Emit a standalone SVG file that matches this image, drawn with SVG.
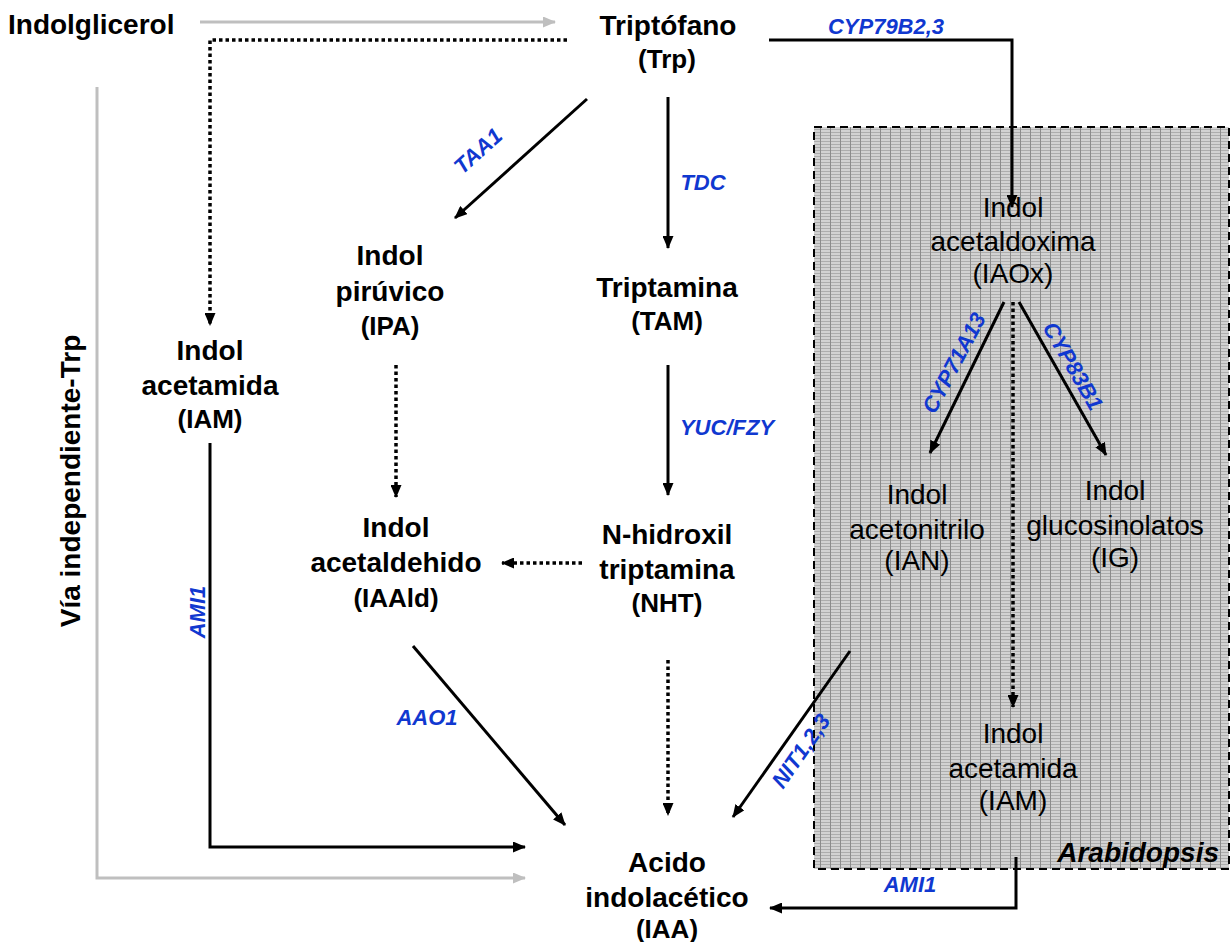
<svg xmlns="http://www.w3.org/2000/svg" width="1232" height="942" viewBox="0 0 1232 942">
<style>
.b{font-family:"Liberation Sans",Arial,sans-serif;font-weight:bold;font-size:28px;fill:#000;text-anchor:middle}
.r{font-family:"Liberation Sans",Arial,sans-serif;font-size:28px;fill:#000;text-anchor:middle}
.e{font-family:"Liberation Sans",Arial,sans-serif;font-weight:bold;font-style:italic;font-size:22px;fill:#1038d0;text-anchor:middle}
.k{fill:none;stroke:#000;stroke-width:3}
.d{fill:none;stroke:#000;stroke-width:3.5;stroke-dasharray:3.5 3}
.g{fill:none;stroke:#bfbfbf;stroke-width:3}
</style>
<defs>
<pattern id="grid" width="10" height="3" patternUnits="userSpaceOnUse">
<rect width="10" height="3" fill="#d2d2d2"/>
<rect y="0" width="10" height="1" fill="#adadad"/>
<rect x="0" width="1" height="3" fill="#8c8c8c"/>
</pattern>
<marker id="ah" viewBox="0 0 13 11" refX="12" refY="5.5" markerWidth="13" markerHeight="11" markerUnits="userSpaceOnUse" orient="auto"><path d="M0,0 L13,5.5 L0,11 Z" fill="#000"/></marker>
<marker id="ag" viewBox="0 0 13 11" refX="12" refY="5.5" markerWidth="13" markerHeight="11" markerUnits="userSpaceOnUse" orient="auto"><path d="M0,0 L13,5.5 L0,11 Z" fill="#bfbfbf"/></marker>
</defs>
<rect width="1232" height="942" fill="#fff"/>
<g id="arabidopsis-box">
<rect x="814" y="127" width="415" height="742" fill="url(#grid)" stroke="#000" stroke-width="2" stroke-dasharray="8 5"/>
<text x="1219" y="862" style="font-family:'Liberation Sans',Arial,sans-serif;font-weight:bold;font-style:italic;font-size:28px;text-anchor:end">Arabidopsis</text>
</g>
<g id="connectors">
<path class="g" d="M200,22 H555" marker-end="url(#ag)"/>
<path class="g" d="M97,87 V878 H525" marker-end="url(#ag)"/>
<path class="d" d="M567,40 H210 V325" marker-end="url(#ah)"/>
<path class="k" d="M769,40 H1012 V207" marker-end="url(#ah)"/>
<path class="k" d="M587,99 L455,218" marker-end="url(#ah)"/>
<path class="k" d="M668,97 V248" marker-end="url(#ah)"/>
<path class="k" d="M668,365 V495" marker-end="url(#ah)"/>
<path class="d" d="M396,365 V497" marker-end="url(#ah)"/>
<path class="d" d="M582,563 H502" marker-end="url(#ah)"/>
<path class="d" d="M668,660 V815" marker-end="url(#ah)"/>
<path class="k" d="M210,443 V847 H525" marker-end="url(#ah)"/>
<path class="k" d="M413,646 L565,825" marker-end="url(#ah)"/>
<path class="k" d="M850,651 L733,817" marker-end="url(#ah)"/>
<path class="k" d="M1004,302 L930,453" marker-end="url(#ah)"/>
<path class="k" d="M1019,302 L1106,455" marker-end="url(#ah)"/>
<path class="d" d="M1013,302 V707" marker-end="url(#ah)"/>
<path class="k" d="M1016,857 V908 H770" marker-end="url(#ah)"/>
<text class="e" x="886" y="34">CYP79B2,3</text>
<text class="e" transform="translate(478,151) rotate(-42)" y="7.5">TAA1</text>
<text class="e" x="703" y="190">TDC</text>
<text class="e" x="727" y="435">YUC/FZY</text>
<text class="e" transform="translate(197,612) rotate(-90)" y="7.5">AMI1</text>
<text class="e" x="427" y="725">AAO1</text>
<text class="e" transform="translate(801,751) rotate(-55)" y="7.5">NIT1,2,3</text>
<text class="e" transform="translate(954,363) rotate(-62)" y="7.5">CYP71A13</text>
<text class="e" transform="translate(1073,366) rotate(60)" y="7.5">CYP83B1</text>
<text class="e" x="910" y="892">AMI1</text>
</g>
<g id="via-independiente">
<text class="b" transform="translate(70,481) rotate(-90)" y="10">Vía independiente-Trp</text>
</g>
<g id="indolglicerol"><text class="b" x="8" y="34" style="text-anchor:start">Indolglicerol</text></g>
<g id="trp"><text class="b" x="668" y="35">Triptófano</text><text class="b" x="667" y="68" style="font-size:26px">(Trp)</text></g>
<g id="ipa"><text class="b" x="390" y="265">Indol</text><text class="b" x="390" y="301">pirúvico</text><text class="b" x="390" y="335" style="font-size:26px">(IPA)</text></g>
<g id="tam"><text class="b" x="667" y="297">Triptamina</text><text class="b" x="667" y="330" style="font-size:26px">(TAM)</text></g>
<g id="iam-left"><text class="b" x="210" y="360">Indol</text><text class="b" x="210" y="395">acetamida</text><text class="b" x="210" y="428" style="font-size:26px">(IAM)</text></g>
<g id="iaald"><text class="b" x="396" y="537">Indol</text><text class="b" x="396" y="572">acetaldehido</text><text class="b" x="396" y="607" style="font-size:26px">(IAAld)</text></g>
<g id="nht"><text class="b" x="667" y="544">N-hidroxil</text><text class="b" x="667" y="579">triptamina</text><text class="b" x="667" y="612" style="font-size:26px">(NHT)</text></g>
<g id="iaa"><text class="b" x="667" y="872">Acido</text><text class="b" x="667" y="907">indolacético</text><text class="b" x="667" y="938" style="font-size:26px">(IAA)</text></g>
<g id="iaox"><text class="r" x="1013" y="217">Indol</text><text class="r" x="1013" y="251">acetaldoxima</text><text class="r" x="1013" y="283">(IAOx)</text></g>
<g id="ian"><text class="r" x="917" y="504">Indol</text><text class="r" x="917" y="539">acetonitrilo</text><text class="r" x="917" y="570">(IAN)</text></g>
<g id="ig"><text class="r" x="1115" y="500">Indol</text><text class="r" x="1115" y="535">glucosinolatos</text><text class="r" x="1115" y="567">(IG)</text></g>
<g id="iam-right"><text class="r" x="1013" y="743">Indol</text><text class="r" x="1013" y="778">acetamida</text><text class="r" x="1013" y="810">(IAM)</text></g>
</svg>
